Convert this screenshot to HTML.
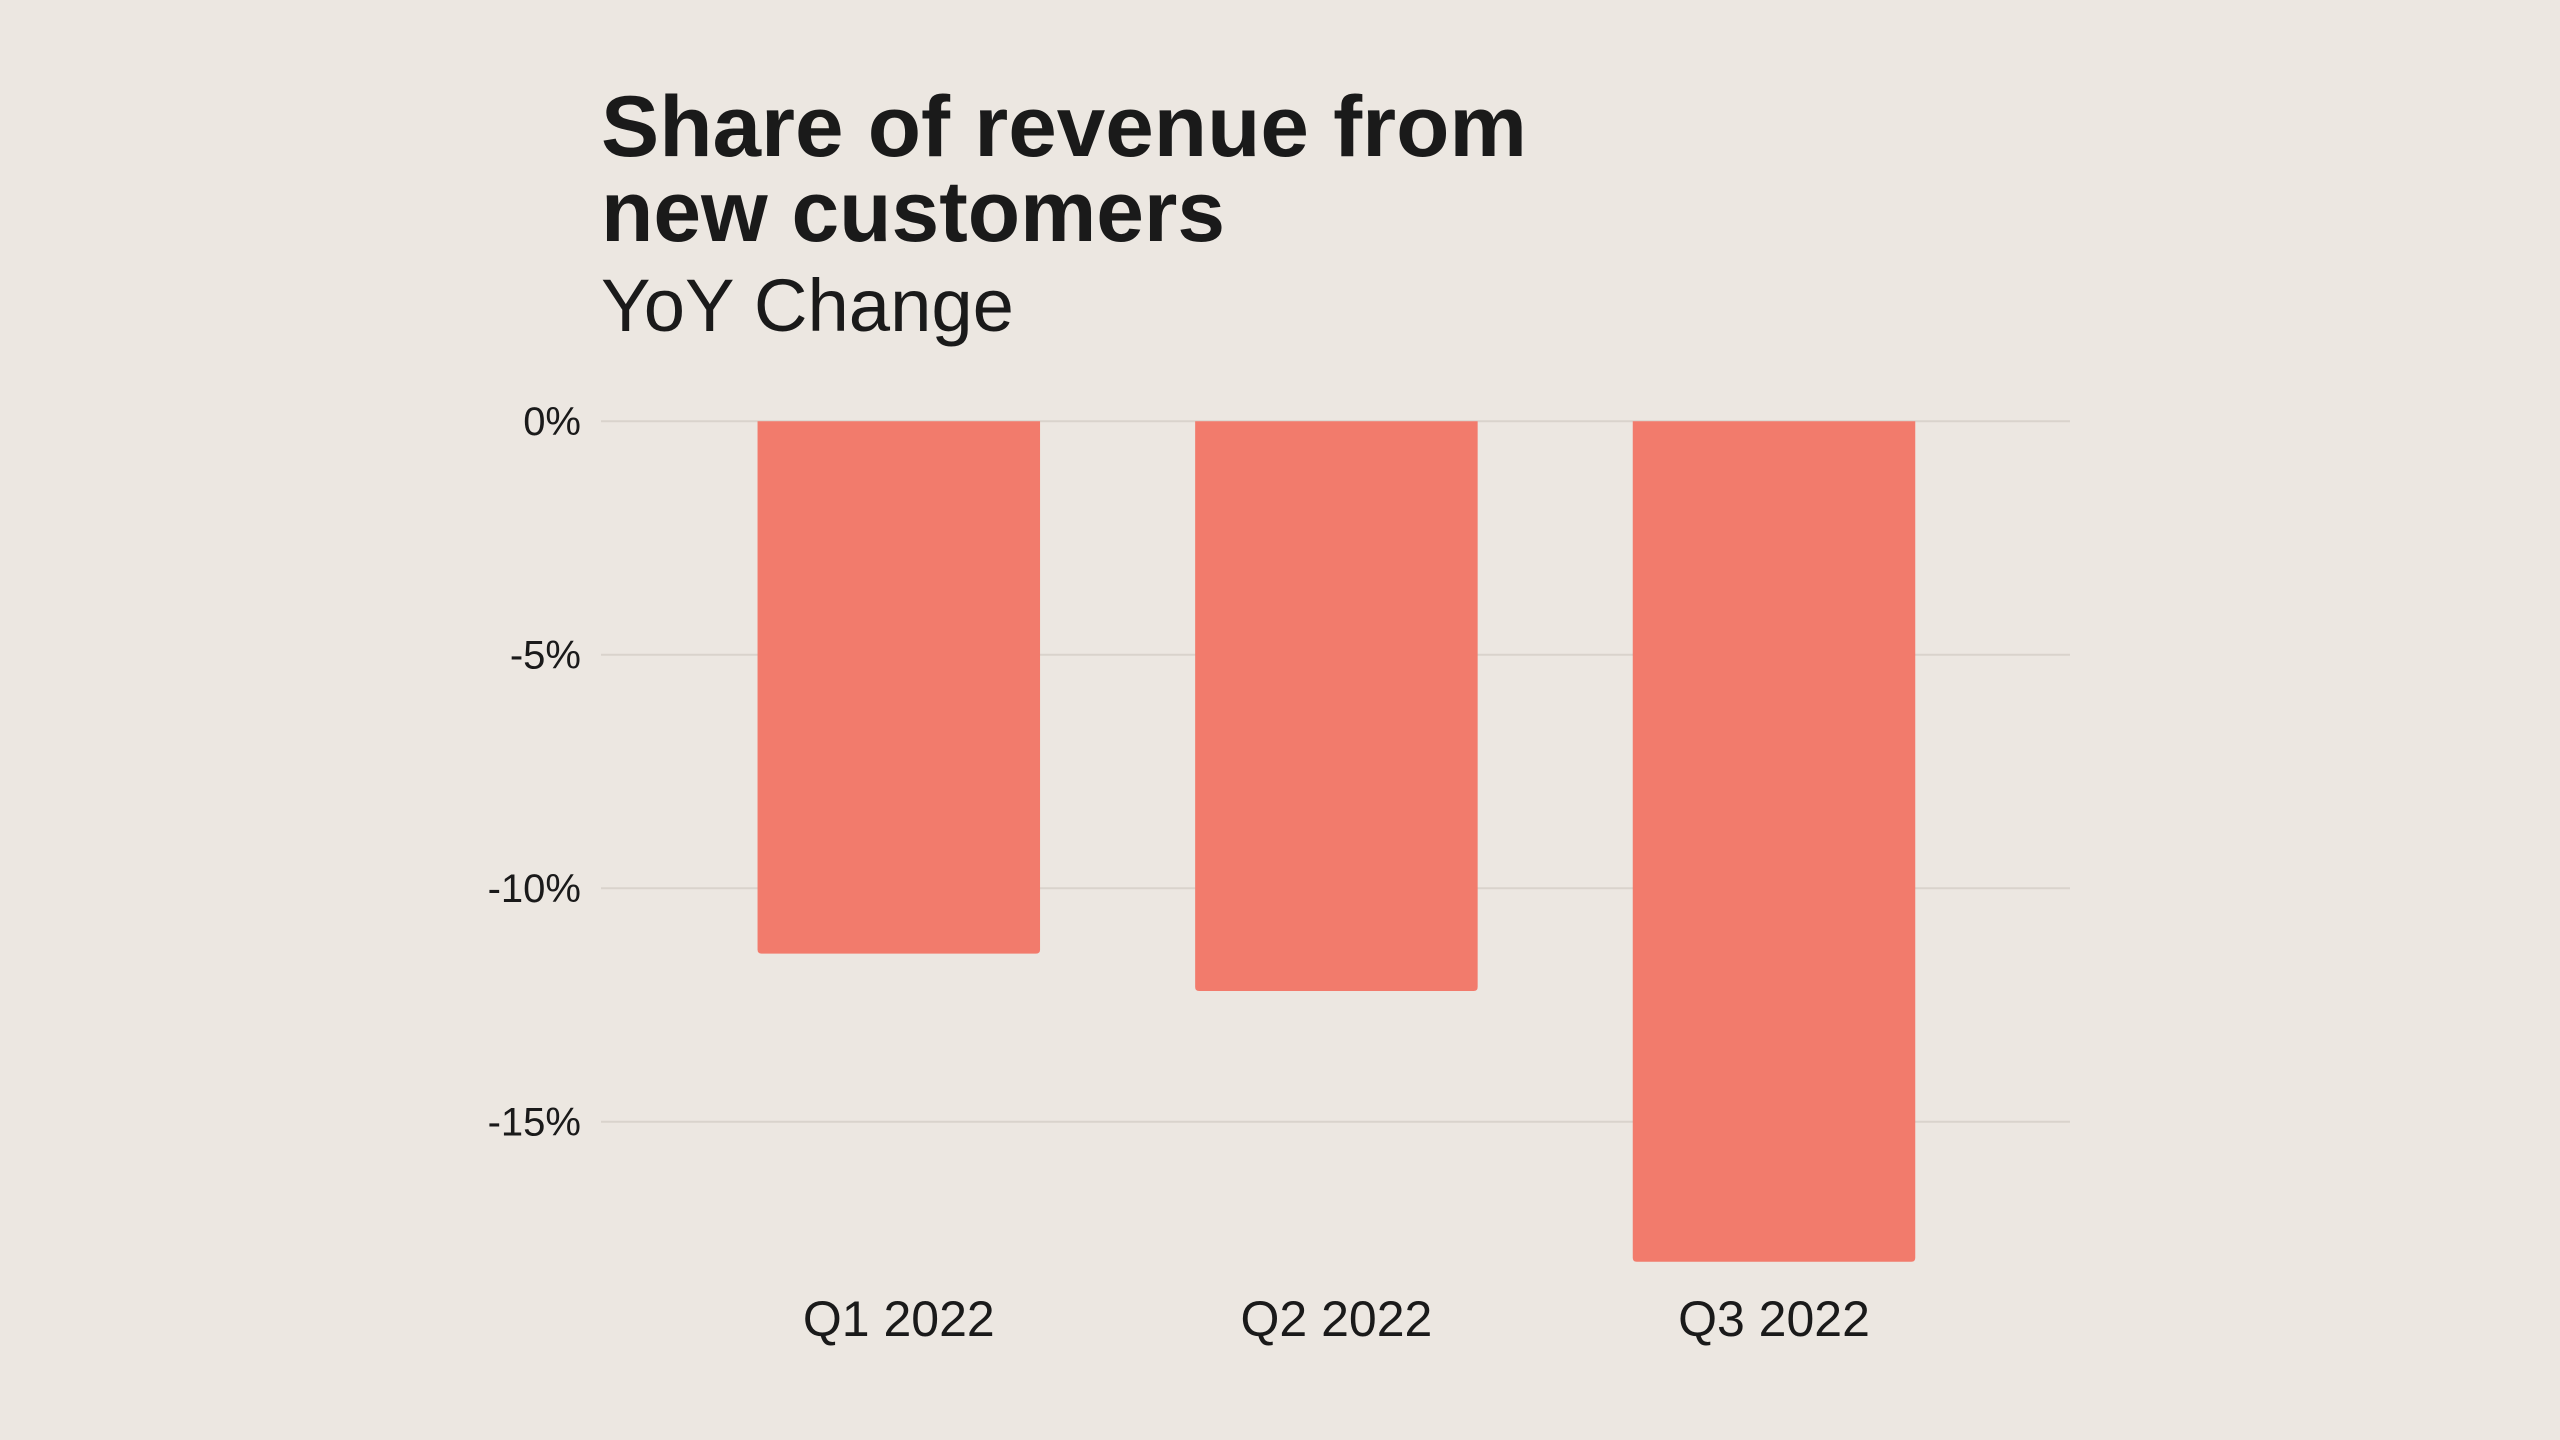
<!DOCTYPE html>
<html><head><meta charset="utf-8"><style>
html,body{margin:0;padding:0;background:#ECE7E1;}
svg{display:block;}
text{font-family:"Liberation Sans",sans-serif;fill:#1a1a1a;}
</style></head><body>
<svg id="chart" width="2560" height="1440" viewBox="0 0 2560 1440" xmlns="http://www.w3.org/2000/svg">
<rect width="2560" height="1440" fill="#ECE7E1"/>
<text x="601" y="156" font-size="86" font-weight="bold" textLength="926" lengthAdjust="spacingAndGlyphs">Share of revenue from</text>
<text x="601" y="241" font-size="86" font-weight="bold" textLength="624" lengthAdjust="spacingAndGlyphs">new customers</text>
<text x="601" y="331" font-size="74" textLength="413" lengthAdjust="spacingAndGlyphs">YoY Change</text>
<g id="grid"></g><g id="bars"></g><g id="labels"></g>
</svg>
<script>
const categories = ["Q1 2022", "Q2 2022", "Q3 2022"];
const values = [-11.4, -12.2, -18.0];
const yTicks = [0, -5, -10, -15];
const yTickLabels = ["0%", "-5%", "-10%", "-15%"];

const NS = "http://www.w3.org/2000/svg";
const y0 = 421.2, pxPerUnit = 46.7;
function yScale(v){ return y0 - v * pxPerUnit; }
const firstCenter = 898.8, step = 437.6, barW = 282.5;
function xCenter(i){ return firstCenter + i * step; }

const grid = document.getElementById('grid');
const bars = document.getElementById('bars');
const labels = document.getElementById('labels');

yTicks.forEach((t, i) => {
  const y = yScale(t);
  const ln = document.createElementNS(NS, 'line');
  ln.setAttribute('x1', 601); ln.setAttribute('x2', 2070);
  ln.setAttribute('y1', y); ln.setAttribute('y2', y);
  ln.setAttribute('stroke', '#D9D3CC'); ln.setAttribute('stroke-width', 2);
  
  
  grid.appendChild(ln);
  const tx = document.createElementNS(NS, 'text');
  tx.setAttribute('x', 581); tx.setAttribute('y', y + 14);
  tx.setAttribute('text-anchor', 'end'); tx.setAttribute('font-size', 40);
  tx.textContent = yTickLabels[i];
  
  
  labels.appendChild(tx);
});

categories.forEach((c, i) => {
  const cx = xCenter(i);
  const top = yScale(0), bot = yScale(values[i]);
  const x = cx - barW / 2, r = 4;
  const p = document.createElementNS(NS, 'path');
  p.setAttribute('d', `M${x},${top} H${x+barW} V${bot-r} Q${x+barW},${bot} ${x+barW-r},${bot} H${x+r} Q${x},${bot} ${x},${bot-r} Z`);
  p.setAttribute('fill', '#F27B6C');
  
  
  bars.appendChild(p);
  const tx = document.createElementNS(NS, 'text');
  tx.setAttribute('x', cx); tx.setAttribute('y', 1336);
  tx.setAttribute('text-anchor', 'middle'); tx.setAttribute('font-size', 50);
  tx.textContent = c;
  
  
  labels.appendChild(tx);
});
</script>
</body></html>
